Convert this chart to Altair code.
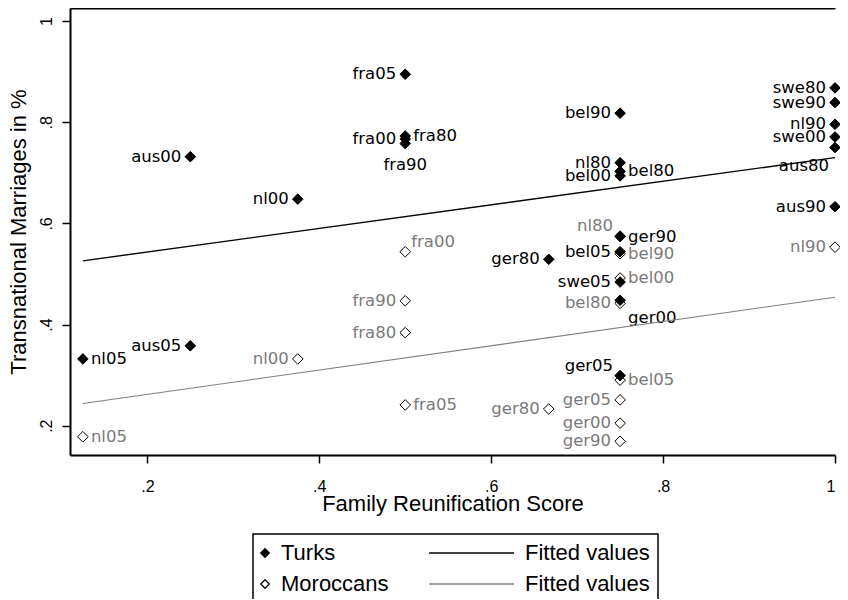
import altair as alt
import pandas as pd

# ---------------- data ----------------
turk_labels = ["nl05", "aus05", "aus00", "nl00", "fra05", "fra00", "fra80", "fra90",
               "bel90", "nl80", "bel80", "bel00", "ger90", "bel05", "ger80", "swe05",
               "ger00", "ger05", "swe80", "swe90", "nl90", "swe00", "aus80", "aus90"]
turk_x = [0.125, 0.25, 0.25, 0.375, 0.5, 0.5, 0.5, 0.5,
          0.75, 0.75, 0.75, 0.75, 0.75, 0.75, 0.667, 0.75,
          0.75, 0.75, 1.0, 1.0, 1.0, 1.0, 1.0, 1.0]
turk_y = [0.332, 0.358, 0.732, 0.648, 0.895, 0.767, 0.773, 0.758,
          0.818, 0.720, 0.703, 0.694, 0.574, 0.544, 0.529, 0.484,
          0.448, 0.299, 0.868, 0.839, 0.796, 0.771, 0.750, 0.633]

moro_labels = ["nl05", "nl00", "fra90", "fra80", "fra00", "fra05", "nl80", "bel90",
               "bel00", "bel80", "bel05", "ger05", "ger00", "ger90", "ger80", "nl90"]
moro_x = [0.125, 0.375, 0.5, 0.5, 0.5, 0.5, 0.75, 0.75,
          0.75, 0.75, 0.75, 0.75, 0.75, 0.75, 0.667, 1.0]
moro_y = [0.178, 0.332, 0.447, 0.384, 0.544, 0.241, 0.575, 0.540,
          0.492, 0.442, 0.290, 0.251, 0.205, 0.169, 0.233, 0.553]

# fitted-value lines (end points)
fit_x = [0.125, 1.0]
turk_fit = [0.526, 0.730]
moro_fit = [0.244, 0.454]

x_ticks = [0.2, 0.4, 0.6, 0.8, 1.0]
y_ticks = [0.2, 0.4, 0.6, 0.8, 1.0]

# marker-label side (style only)
turk_side = ["r", "l", "l", "l", "l", "l", "r", "b",
             "l", "l", "r", "l", "r", "l", "l", "l",
             "rb", "lt", "l", "l", "l", "l", "lb", "l"]
moro_side = ["r", "l", "l", "l", "rt", "r", "lt", "r",
             "r", "l", "r", "l", "l", "l", "l", "l"]

# ---------------- tables ----------------
pts = pd.concat([
    pd.DataFrame({"x": turk_x, "y": turk_y, "lab": turk_labels,
                  "side": turk_side, "group": "Turks"}),
    pd.DataFrame({"x": moro_x, "y": moro_y, "lab": moro_labels,
                  "side": moro_side, "group": "Moroccans"}),
], ignore_index=True)

fit_t = pd.DataFrame({"x": fit_x, "y": turk_fit})
fit_m = pd.DataFrame({"x": fit_x, "y": moro_fit})

xscale = alt.Scale(domain=[0.11, 1.0], nice=False, zero=False)
yscale = alt.Scale(domain=[0.142, 1.026], nice=False, zero=False)

AX_FONT = "Liberation Sans"
LAB_FONT = "DejaVu Sans"
TICK_EXPR = "datum.value >= 1 ? '1' : replace(format(datum.value, '.1f'), '0.', '.')"

x_axis = alt.Axis(values=x_ticks, title="Family Reunification Score", labelExpr=TICK_EXPR,
                  grid=False, tickSize=8, labelPadding=28, labelBaseline="alphabetic",
                  labelFont=AX_FONT, labelFontSize=16,
                  titleY=55.7, titleBaseline="alphabetic")
y_axis = alt.Axis(values=y_ticks, title="Transnational Marriages in %", labelExpr=TICK_EXPR,
                  grid=False, tickSize=8, labelPadding=11, labelAngle=270,
                  labelAlign="center", labelBaseline="alphabetic",
                  labelFont=AX_FONT, labelFontSize=16,
                  titleAngle=270, titleX=-45, titleY=223.5, titleAlign="center",
                  titleBaseline="alphabetic")

# legend (shape/fill/stroke merged on the same field)
dom = ["Turks", "Moroccans", "Turks fit", "Moroccans fit"]
diamond = "M0,-0.5L0.5,0L0,0.5L-0.5,0Z"
line_sym = "M-9.4,0L0.6,0"
leg = alt.Legend(orient="none", legendX=183, legendY=526, columns=2, title=None,
                 labelFont=AX_FONT, labelFontSize=22, labelColor="black", labelLimit=400,
                 labelOffset=5, symbolOffset=-7, symbolSize=289, symbolStrokeWidth=1.3,
                 padding=8, rowPadding=9, columnPadding=37, strokeColor="black",
                 labelExpr="indexof(datum.label, 'fit') >= 0 ? 'Fitted values' : datum.label")

points = alt.Chart(pts).mark_point(size=450, opacity=1, strokeWidth=1).encode(
    x=alt.X("x:Q", scale=xscale, axis=x_axis),
    y=alt.Y("y:Q", scale=yscale, axis=y_axis),
    shape=alt.Shape("group:N", scale=alt.Scale(domain=dom, range=[diamond, diamond, line_sym, line_sym]), legend=leg),
    fill=alt.Fill("group:N", scale=alt.Scale(domain=dom, range=["black", "transparent", "black", "#808080"]), legend=leg),
    stroke=alt.Stroke("group:N", scale=alt.Scale(domain=dom, range=["black", "black", "black", "#808080"]), legend=leg),
)

side_style = {
    "r": dict(align="left", dx=8, dy=0),
    "l": dict(align="right", dx=-9, dy=0),
    "b": dict(align="center", dx=0, dy=21),
    "rb": dict(align="left", dx=8, dy=18),
    "lt": dict(align="right", dx=-7, dy=-10),
    "lb": dict(align="right", dx=-6, dy=18),
    "rt": dict(align="left", dx=6, dy=-10),
}

text_layers = []
for s, st in side_style.items():
    text_layers.append(
        alt.Chart(pts).transform_filter(alt.datum.side == s).mark_text(
            baseline="middle", font=LAB_FONT, fontSize=16.5, **st
        ).encode(
            x=alt.X("x:Q", scale=xscale, axis=None),
            y=alt.Y("y:Q", scale=yscale, axis=y_axis),
            text="lab:N",
            color=alt.Color("group:N", scale=alt.Scale(domain=["Turks", "Moroccans"],
                                                       range=["black", "#7a7a7a"]), legend=None),
        )
    )

line_t = alt.Chart(fit_t).mark_line(color="black", strokeWidth=1.4).encode(
    x=alt.X("x:Q", scale=xscale, axis=None),
    y=alt.Y("y:Q", scale=yscale, axis=y_axis),
)
line_m = alt.Chart(fit_m).mark_line(color="#808080", strokeWidth=1.1).encode(
    x=alt.X("x:Q", scale=xscale, axis=None),
    y=alt.Y("y:Q", scale=yscale, axis=y_axis),
)

# top frame line of the plot region
top_frame = alt.Chart(fit_t).mark_line(opacity=0).encode(
    x=alt.X("x:Q", scale=xscale,
            axis=alt.Axis(orient="top", labels=False, ticks=False, title=None, grid=False)),
    y=alt.Y("y:Q", scale=yscale, axis=y_axis),
)

chart = alt.layer(points, *text_layers, line_t, line_m, top_frame).resolve_axis(
    x="independent"
).properties(
    width=765, height=447,
    padding={"left": 62, "top": 0, "right": 5, "bottom": 144},
    autosize=alt.AutoSizeParams(type="none"),
    background="white",
).configure_view(stroke=None).configure_axis(
    domainColor="black", domainWidth=2, tickColor="black", tickWidth=1.5,
    labelFont=AX_FONT, labelFontSize=16, labelColor="black",
    titleFont=AX_FONT, titleFontSize=22, titleColor="black", titleFontWeight="normal",
).configure_legend(strokeWidth=1.5)

chart.save("out.html", embed_options={"renderer": "svg", "actions": False})
